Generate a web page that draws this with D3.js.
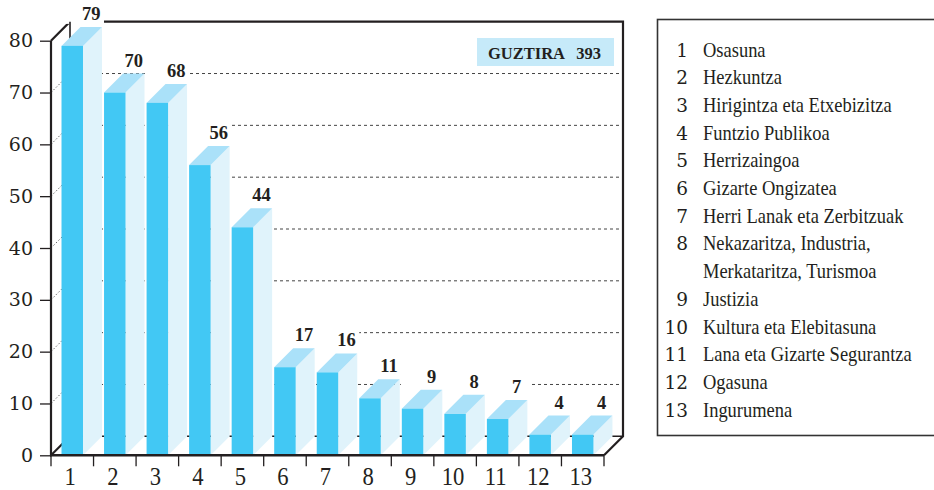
<!DOCTYPE html>
<html>
<head>
<meta charset="utf-8">
<script src="https://cdn.jsdelivr.net/npm/d3@7"></script>
<style>
  html, body { margin: 0; padding: 0; background: #fff; }
  svg { display: block; }
</style>
</head>
<body>
<div id="container"></div>
<script>
// datuak
const categories = ["1", "2", "3", "4", "5", "6", "7", "8", "9", "10", "11", "12", "13"];
const values = [79, 70, 68, 56, 44, 17, 16, 11, 9, 8, 7, 4, 4];
const yTicks = [0, 10, 20, 30, 40, 50, 60, 70, 80];
const legendNames = [
  ["Osasuna"],
  ["Hezkuntza"],
  ["Hirigintza eta Etxebizitza"],
  ["Funtzio Publikoa"],
  ["Herrizaingoa"],
  ["Gizarte Ongizatea"],
  ["Herri Lanak eta Zerbitzuak"],
  ["Nekazaritza, Industria,", "Merkataritza, Turismoa"],
  ["Justizia"],
  ["Kultura eta Elebitasuna"],
  ["Lana eta Gizarte Segurantza"],
  ["Ogasuna"],
  ["Ingurumena"]
];
const totalLabel = "GUZTIRA";
const totalValue = 393;

const width = 934;
const height = 490;

// 3D plotaren geometria
const xLeft = 51, xRight = 604;
const yBottom = 455.3, yTop = 40.7;
const depth = 19; // sakonera (x eta y)

const colorFront = "#42c8f4";
const colorTop = "#aae1f9";
const colorSide = "#e0f3fb";
const ink = "#231f20";

const svg = d3.select("#container")
  .append("svg")
  .attr("width", width)
  .attr("height", height);

const x = d3.scaleBand().domain(categories).range([xLeft, xRight]).padding(0);
const y = d3.scaleLinear().domain([0, 80]).range([yBottom, yTop]);
const bw = x.bandwidth();
const faceOff = bw * 0.247;
const faceW = bw * 0.505;

// atzeko horma: marra etenak
const wall = svg.append("g");
wall.selectAll("line.grid")
  .data(yTicks.filter(d => d > 0 && d < 80))
  .join("line")
  .attr("x1", xLeft + depth).attr("x2", xRight + depth)
  .attr("y1", d => y(d) - depth).attr("y2", d => y(d) - depth)
  .attr("stroke", "#444").attr("stroke-width", 1)
  .attr("stroke-dasharray", "3,3");

// ezkerreko diagonal puntudunak
wall.selectAll("line.diag")
  .data(yTicks.filter(d => d > 0 && d < 80))
  .join("line")
  .attr("x1", xLeft).attr("x2", xLeft + depth)
  .attr("y1", d => y(d)).attr("y2", d => y(d) - depth)
  .attr("stroke", "#444").attr("stroke-width", 0.8)
  .attr("stroke-dasharray", "1.5,2");

// atzeko behealdea
wall.append("line")
  .attr("x1", xLeft + depth).attr("x2", xRight + depth)
  .attr("y1", y(0) - depth).attr("y2", y(0) - depth)
  .attr("stroke", ink).attr("stroke-width", 1.6);

// goiko ertza eta eskuineko ertza
wall.append("path")
  .attr("d", `M${xLeft},${y(80)}L${xLeft + depth},${y(80) - depth}L${xRight + depth},${y(80) - depth}L${xRight + depth},${y(0) - depth}L${xRight},${y(0)}`)
  .attr("fill", "none").attr("stroke", ink).attr("stroke-width", 2.2)
  .attr("stroke-linejoin", "miter");
wall.append("line")
  .attr("x1", xLeft).attr("x2", xLeft + depth)
  .attr("y1", y(0)).attr("y2", y(0) - depth)
  .attr("stroke", ink).attr("stroke-width", 2.2);

// balio etiketen atzeko kutxa zuriak
const bars = categories.map((c, i) => ({ c, v: values[i] }));
svg.append("g").selectAll("rect")
  .data(bars)
  .join("rect")
  .attr("x", d => x(d.c) + faceOff - 1)
  .attr("width", faceW + depth + 3)
  .attr("y", d => y(d.v) - depth - 7 - 16)
  .attr("height", 20)
  .attr("fill", "#fff");

// atzeko ezkerreko ertza
svg.append("line")
  .attr("x1", xLeft + depth).attr("x2", xLeft + depth)
  .attr("y1", y(80) - depth).attr("y2", y(0) - depth)
  .attr("stroke", ink).attr("stroke-width", 1.6);

// barrak
const bar = svg.append("g").selectAll("g")
  .data(bars)
  .join("g");

bar.append("path") // alboa
  .attr("d", d => {
    const x1 = x(d.c) + faceOff + faceW;
    return `M${x1},${y(d.v)}L${x1 + depth},${y(d.v) - depth}L${x1 + depth},${y(0) - depth}L${x1},${y(0)}Z`;
  })
  .attr("fill", colorSide);

bar.append("path") // goialdea
  .attr("d", d => {
    const x0 = x(d.c) + faceOff, x1 = x0 + faceW, yy = y(d.v);
    return `M${x0},${yy}L${x1},${yy}L${x1 + depth},${yy - depth}L${x0 + depth},${yy - depth}Z`;
  })
  .attr("fill", colorTop);

bar.append("rect") // aurrealdea
  .attr("x", d => x(d.c) + faceOff)
  .attr("width", faceW)
  .attr("y", d => y(d.v))
  .attr("height", d => y(0) - y(d.v))
  .attr("fill", colorFront);

// balio etiketak
svg.append("g")
  .attr("font-family", "'Liberation Serif', serif")
  .attr("font-weight", "bold")
  .attr("font-size", 18.5)
  .attr("fill", ink)
  .attr("text-anchor", "middle")
  .selectAll("text")
  .data(bars)
  .join("text")
  .attr("x", d => x(d.c) + faceOff + faceW / 2 + depth)
  .attr("y", d => y(d.v) - depth - 7)
  .text(d => d.v);

// Y ardatza
const yAxis = svg.append("g")
  .attr("transform", `translate(${xLeft},0)`)
  .call(d3.axisLeft(y).tickValues(yTicks).tickSize(11).tickPadding(7));
yAxis.select(".domain").remove();
yAxis.selectAll(".tick line").attr("stroke", ink).attr("stroke-width", 1.3);
yAxis.selectAll(".tick text")
  .attr("font-family", "'DejaVu Serif', serif")
  .attr("font-size", 19)
  .attr("fill", ink);
svg.append("line")
  .attr("x1", xLeft).attr("x2", xLeft)
  .attr("y1", y(80)).attr("y2", y(0) + 1)
  .attr("stroke", ink).attr("stroke-width", 2.2);

// X ardatza
svg.append("g").selectAll("line")
  .data(d3.range(categories.length + 1))
  .join("line")
  .attr("x1", i => xLeft + i * bw).attr("x2", i => xLeft + i * bw)
  .attr("y1", y(0)).attr("y2", y(0) + 11)
  .attr("stroke", ink).attr("stroke-width", 1.3);
svg.append("line")
  .attr("x1", xLeft - 1).attr("x2", xRight)
  .attr("y1", y(0)).attr("y2", y(0))
  .attr("stroke", ink).attr("stroke-width", 2.4);
svg.append("g")
  .attr("font-family", "'Liberation Serif', serif")
  .attr("font-size", 26)
  .attr("fill", ink)
  .attr("text-anchor", "middle")
  .selectAll("text")
  .data(categories)
  .join("text")
  .attr("transform", d => `translate(${x(d) + bw / 2 - 2},485) scale(0.87,1)`)
  .text(d => d);

// GUZTIRA kutxa
svg.append("rect")
  .attr("x", 477).attr("y", 38)
  .attr("width", 137).attr("height", 28)
  .attr("fill", "#c6eaf9");
svg.append("text")
  .attr("x", 488).attr("y", 58.5)
  .attr("font-family", "'Liberation Serif', serif")
  .attr("font-weight", "bold").attr("font-size", 16.5)
  .attr("fill", ink)
  .text(totalLabel);
svg.append("text")
  .attr("x", 601).attr("y", 58.5)
  .attr("text-anchor", "end")
  .attr("font-family", "'Liberation Serif', serif")
  .attr("font-weight", "bold").attr("font-size", 16.5)
  .attr("fill", ink)
  .text(totalValue);

// legenda
svg.append("rect")
  .attr("x", 657.5).attr("y", 19.5)
  .attr("width", 300).attr("height", 416)
  .attr("fill", "none").attr("stroke", "#333").attr("stroke-width", 1.6);

const rowH = 27.7;
let lineNo = 0;
const legendRows = [];
legendNames.forEach((lines, i) => {
  legendRows.push({ n: categories[i], lines, line: lineNo });
  lineNo += lines.length;
});

const legend = svg.append("g").attr("fill", ink);
legend.selectAll("text.num")
  .data(legendRows)
  .join("text")
  .attr("class", "num")
  .attr("x", 688)
  .attr("y", d => 56.5 + d.line * rowH)
  .attr("text-anchor", "end")
  .attr("font-family", "'DejaVu Serif', serif")
  .attr("font-size", 18.5)
  .text(d => d.n);

legend.selectAll("text.name")
  .data(legendRows.flatMap(d => d.lines.map((t, k) => ({ t, line: d.line + k }))))
  .join("text")
  .attr("class", "name")
  .attr("transform", d => `translate(703,${56.5 + d.line * rowH}) scale(0.88,1)`)
  .attr("font-family", "'Liberation Serif', serif")
  .attr("font-size", 21)
  .text(d => d.t);
</script>
</body>
</html>
